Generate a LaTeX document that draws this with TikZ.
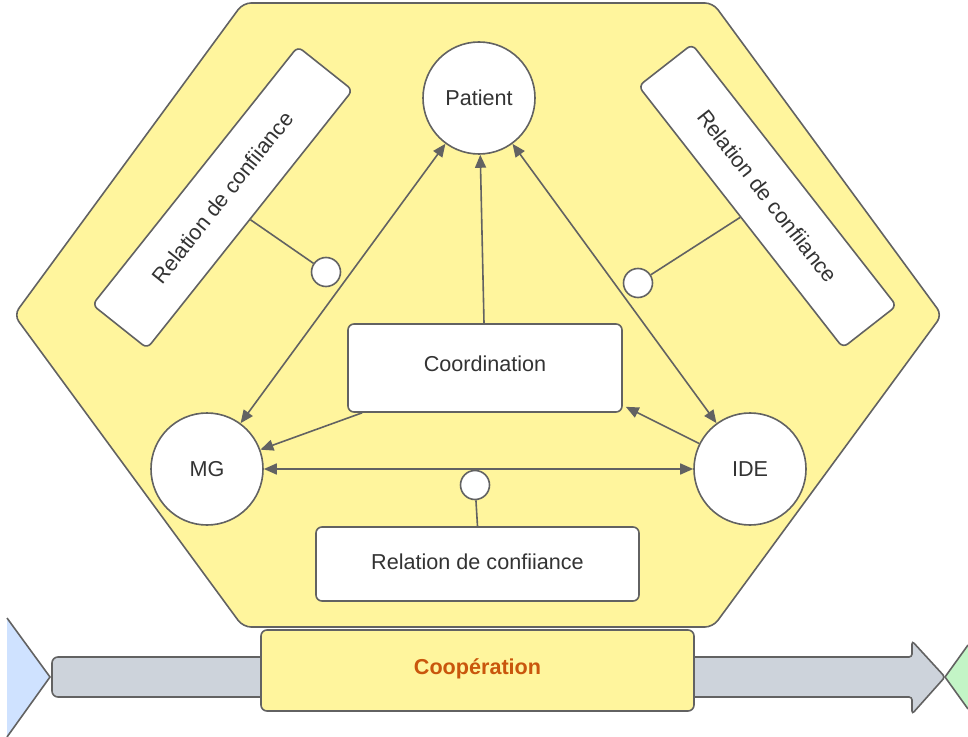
\documentclass[tikz,border=0pt]{standalone}
\usepackage{fontspec}
\setmainfont{Liberation Sans}
\usetikzlibrary{arrows.meta}

\definecolor{hexyellow}{HTML}{FFF59D}
\definecolor{linegray}{HTML}{626262}
\definecolor{bargray}{HTML}{CDD3DB}
\definecolor{textgray}{HTML}{333333}
\definecolor{coopcol}{HTML}{C9560C}
\definecolor{startblue}{HTML}{CFE2FF}
\definecolor{endgreen}{HTML}{C3F5C6}

\newcommand{\mainsize}{\fontsize{10.8}{13}\selectfont}
\newcommand{\pxunit}{0.5pt}

\tikzstyle{actor}=[draw=linegray,fill=white,circle,minimum size=56pt,inner sep=0pt,font=\mainsize,text=textgray]
\tikzstyle{panel}=[draw=linegray,fill=white,rounded corners=3pt,inner sep=0pt,font=\mainsize,text=textgray]
\tikzstyle{joint}=[draw=linegray,fill=white,circle,minimum size=14.5pt,inner sep=0pt]
\tikzstyle{link}=[draw=linegray,{Triangle[length=6.5pt,width=5.5pt]}-{Triangle[length=6.5pt,width=5.5pt]}]
\tikzstyle{flow}=[draw=linegray,-{Triangle[length=6.5pt,width=5.5pt]}]
\tikzstyle{tie}=[draw=linegray]

\begin{document}
\begin{tikzpicture}[x=\pxunit, y=-\pxunit, line width=0.8pt]
    \useasboundingbox (0,0) rectangle (968,737);
    % Start and end of the process, then the gray arrow
    \fill[startblue] (7,618) -- (50,677) -- (7,737) -- cycle;
    \draw[linegray] (7,618) -- (50,677) -- (7,737);
    \fill[endgreen] (945,677) -- (968,645) -- (968,709) -- cycle;
    \draw[linegray] (968,645) -- (945,677) -- (968,709);
    \draw[linegray, fill=bargray, rounded corners=3pt] (52,657) rectangle (275,697);
    \draw[linegray, fill=bargray, rounded corners=1.5pt] (680,657) -- (912,657) -- (912,641)
        -- (945,677) -- (912,714) -- (912,697) -- (680,697) -- cycle;
    % The hexagon
    \draw[linegray, fill=hexyellow, rounded corners=4pt] (243,3) -- (713,3) -- (942,315)
        -- (713,627) -- (243,627) -- (14,315) -- cycle;
    \node[panel, fill=hexyellow, minimum width=216.5pt, minimum height=40.5pt, text depth=4pt,
        font=\mainsize\bfseries, text=coopcol] (coop) at (477.5,670.5) {Coopération};

    % Actors and boxes
    \node[actor] (patient) at (479,98) {Patient};
    \node[actor] (mg) at (207,469) {MG};
    \node[actor] (ide) at (750,469) {IDE};
    \node[panel, minimum width=137pt, minimum height=44pt, text depth=4pt] (coord) at (485,368) {Coordination};
    \node[panel, minimum width=161.5pt, minimum height=37pt, text depth=2pt] (trustbottom) at (477.5,564) {Relation de confiiance};
    \node[panel, minimum width=165pt, minimum height=35pt, rotate=51.5] (trustleft) at (222.5,197.5) {Relation de confiiance};
    \node[panel, minimum width=166pt, minimum height=34pt, rotate=-52] (trustright) at (767.5,196) {Relation de confiiance};

    % Arrows between the actors
    \foreach \source/\dest in {mg/patient, ide/patient, mg/ide}
        \path[link] (\source) -- (\dest);
    \path[flow] (coord) -- (patient);
    \path[flow] ([xshift=7.5pt]coord.south west) -- (mg);
    \path[flow] (ide) -- ([xshift=1.5pt,yshift=3pt]coord.south east);

    % Trust links with their small circles
    \node[joint] (jleft) at (326,272) {};
    \node[joint] (jright) at (638,283) {};
    \node[joint] (jbottom) at (475,485) {};
    \path[tie] (trustleft.south) -- (jleft);
    \path[tie] (trustright.south) -- (jright);
    \path[tie] (trustbottom.north) -- (jbottom);
\end{tikzpicture}
\end{document}
